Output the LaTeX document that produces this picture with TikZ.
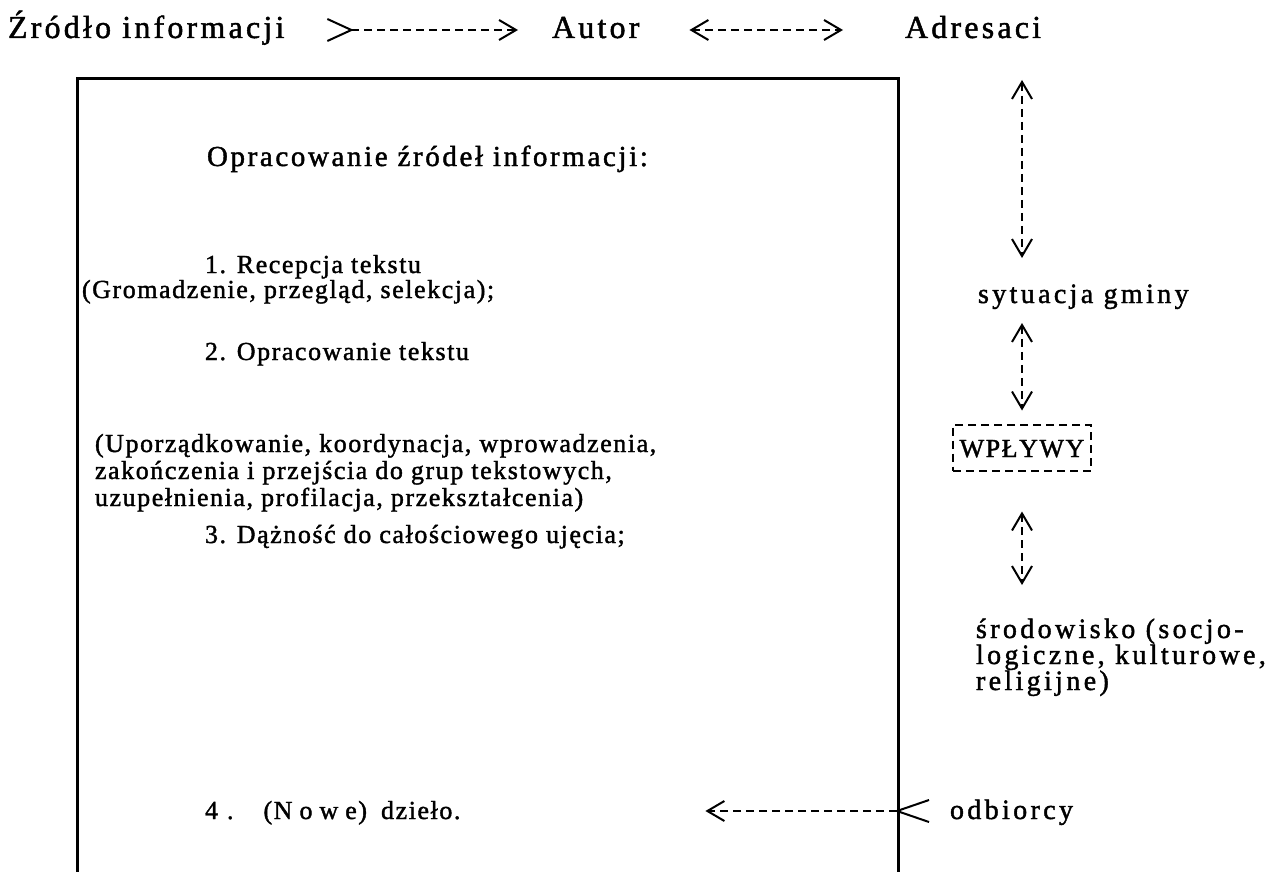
\documentclass[tikz,border=0pt]{standalone}
\usepackage{fontspec}
\setmainfont[FakeBold=1.5]{Liberation Serif}
\newfontfamily\topf[FakeBold=1.5, LetterSpace=10]{Liberation Serif}
\newfontfamily\titlef[FakeBold=1.5, LetterSpace=9]{Liberation Serif}
\newfontfamily\bodyf[FakeBold=1.5, LetterSpace=6]{Liberation Serif}
\newfontfamily\sidef[FakeBold=1.5, LetterSpace=12]{Liberation Serif}
\usetikzlibrary{arrows.meta}
\tikzset{
  barb/.tip={Straight Barb[length=17pt, width=20pt, line width=2pt]},
  tailA/.tip={Straight Barb[reversed, length=24pt, width=22pt, line width=2pt]},
  tailB/.tip={Straight Barb[reversed, length=32pt, width=22pt, line width=2pt]},
}
\begin{document}
\begin{tikzpicture}[x=1pt,y=-1pt,
  every node/.style={inner sep=0pt, outer sep=0pt, anchor=base west, text height=20pt, text depth=4pt},
  toptxt/.style={font=\topf\fontsize{32}{34}\selectfont},
  titletxt/.style={font=\titlef\fontsize{29}{31}\selectfont},
  bodytxt/.style={font=\bodyf\fontsize{26}{28}\selectfont},
  sidetxt/.style={font=\sidef\fontsize{28}{30}\selectfont},
  link/.style={line width=2pt, dash pattern=on 8pt off 5pt},
  frame/.style={line width=3pt},
]
\useasboundingbox (0,0) rectangle (1276,872);
% top line
\node[toptxt] (zrodlo) at (8,38) {Źródło informacji};
\node[toptxt] (autor) at (552,38) {Autor};
\node[toptxt] (adresaci) at (905,38) {Adresaci};
% frame
\draw[frame] (77,872) -- (77,79) -- (898,79) -- (898,872);
% box contents
\node[titletxt] (tytul) at (207,166) {Opracowanie źródeł informacji:};
\node[bodytxt] (p1) at (205,273) {1. Recepcja tekstu};
\node[bodytxt] (p1a) at (82,298) {(Gromadzenie, przegląd, selekcja);};
\node[bodytxt] (p2) at (205,360) {2. Opracowanie tekstu};
\node[bodytxt] (p2a) at (95,452) {(Uporządkowanie, koordynacja, wprowadzenia,};
\node[bodytxt] (p2b) at (95,479) {zakończenia i przejścia do grup tekstowych,};
\node[bodytxt] (p2c) at (95,506) {uzupełnienia, profilacja, przekształcenia)};
\node[bodytxt] (p3) at (205,543) {3. Dążność do całościowego ujęcia;};
\node[bodytxt] (dzielo) at (205,819) {4\hspace{9pt}.\hspace{30pt}(N\hspace{7pt}o\hspace{7pt}w\hspace{7pt}e)\hspace{14pt}dzieło.};
% right column
\node[sidetxt] (sytuacja) at (978,303) {sytuacja gminy};
\node[bodytxt, anchor=center, draw, link, minimum width=138pt, minimum height=46pt, text height=19pt, text depth=0pt] (wplywy) at (1022,447.5) {WPŁYWY};
\node[sidetxt] (srod1) at (976,638) {środowisko (socjo-};
\node[sidetxt] (srod2) at (976,664) {logiczne, kulturowe,};
\node[sidetxt] (srod3) at (976,690) {religijne)};
\node[sidetxt] (odbiorcy) at (950,819) {odbiorcy};
% connectors
\draw[link, {tailA}-{barb}, shorten <=42pt, shorten >=34pt] (zrodlo.east) -- (autor.west);
\draw[link, {barb}-{barb}, shorten <=50pt, shorten >=62pt] (autor.east) -- (adresaci.west);
\draw[link, {barb}-{barb}, shorten <=38pt, shorten >=25pt] (adresaci.south -| wplywy.north) -- (sytuacja.north -| wplywy.north);
\draw[link, {barb}-{barb}, shorten <=16pt, shorten >=14pt] (sytuacja.south -| wplywy.north) -- (wplywy.north);
\draw[link, {barb}-{barb}, shorten <=41pt, shorten >=33pt] (wplywy.south) -- (srod1.north -| wplywy.south);
\draw[link, {tailB}-{barb}, shorten <=20pt, shorten >=245pt] (odbiorcy.west) -- (dzielo.east);
\end{tikzpicture}
\end{document}
